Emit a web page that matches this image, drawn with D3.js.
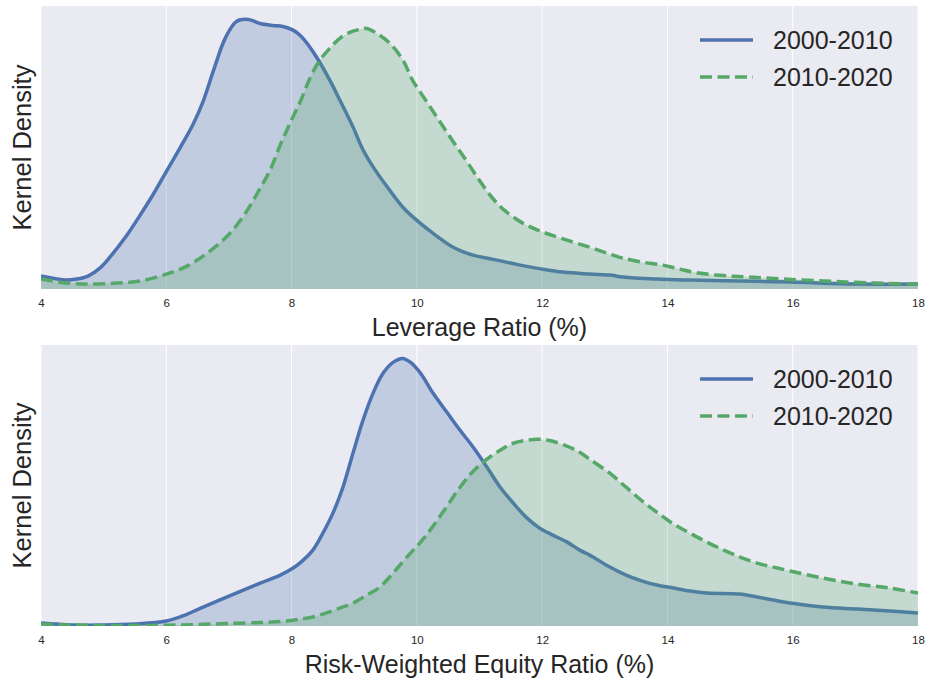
<!DOCTYPE html>
<html><head><meta charset="utf-8">
<script src="https://cdn.jsdelivr.net/npm/d3@7"></script>
<style>
html,body{margin:0;padding:0;background:#fff;}
svg{display:block;font-family:"Liberation Sans",Arial,sans-serif;}
</style></head>
<body><svg id="chart" width="927" height="685"></svg>
<script>
const seriesNames = ["2000-2010", "2010-2020"];
const xTicks = [4, 6, 8, 10, 12, 14, 16, 18];

// Leverage ratio KDE (x, density)
const levX_2000 = [4.0,4.38,4.57,4.75,4.94,5.1,5.37,5.58,5.79,6.0,6.22,6.43,6.59,6.75,6.94,7.12,7.31,7.5,7.7,7.86,8.0,8.1,8.21,8.4,8.61,8.77,8.98,9.14,9.33,9.57,9.78,10.0,10.26,10.58,10.9,11.28,11.65,12.0,12.33,12.76,13.08,13.29,13.83,14.36,15.16,15.96,17.03,18.0];
const levY_2000 = [0.013,0.009,0.010,0.013,0.021,0.032,0.054,0.074,0.095,0.118,0.142,0.166,0.189,0.219,0.252,0.269,0.271,0.267,0.265,0.264,0.261,0.257,0.250,0.233,0.210,0.190,0.163,0.140,0.120,0.099,0.082,0.069,0.056,0.042,0.034,0.029,0.024,0.020,0.017,0.015,0.014,0.012,0.010,0.009,0.008,0.007,0.005,0.005];
const levX_2010 = [4.0,4.41,4.78,5.21,5.58,6.0,6.33,6.65,6.97,7.23,7.45,7.66,7.82,8.0,8.15,8.3,8.45,8.61,8.77,8.93,9.09,9.2,9.36,9.57,9.78,9.93,10.14,10.35,10.56,10.78,10.99,11.2,11.4,11.67,11.94,12.3,12.76,13.13,13.29,13.6,13.93,14.2,14.5,14.9,15.3,15.85,16.5,17.0,17.5,18.0];
const levY_2010 = [0.010,0.006,0.005,0.006,0.008,0.015,0.023,0.036,0.053,0.073,0.096,0.120,0.145,0.170,0.190,0.213,0.230,0.242,0.252,0.258,0.261,0.262,0.257,0.247,0.230,0.210,0.190,0.170,0.150,0.130,0.110,0.092,0.079,0.067,0.059,0.051,0.042,0.034,0.031,0.027,0.024,0.020,0.016,0.0135,0.012,0.010,0.008,0.0067,0.0057,0.0047];

// Risk-weighted equity ratio KDE (x, density)
const rweX_2000 = [4.0,4.5,5.0,5.5,6.0,6.3,6.55,7.0,7.5,7.82,8.0,8.15,8.34,8.5,8.66,8.82,8.98,9.14,9.3,9.46,9.62,9.77,9.9,10.06,10.26,10.48,10.69,10.9,11.12,11.33,11.54,11.76,11.96,12.17,12.4,12.6,12.76,13.08,13.34,13.6,13.83,14.1,14.36,14.63,15.16,15.43,15.69,15.96,16.48,17.03,17.55,18.0];
const rweY_2000 = [0.003,0.001,0.001,0.002,0.005,0.011,0.018,0.030,0.043,0.051,0.057,0.064,0.076,0.093,0.113,0.139,0.173,0.206,0.233,0.253,0.264,0.268,0.264,0.253,0.233,0.214,0.196,0.179,0.159,0.139,0.123,0.108,0.098,0.091,0.084,0.076,0.071,0.059,0.051,0.045,0.041,0.038,0.035,0.033,0.032,0.029,0.026,0.023,0.019,0.017,0.015,0.013];
const rweX_2010 = [4.0,4.5,5.0,5.5,6.0,6.5,7.0,7.5,7.82,8.0,8.15,8.34,8.55,8.77,8.98,9.2,9.41,9.62,9.84,10.06,10.26,10.48,10.69,10.9,11.12,11.33,11.54,11.76,11.96,12.17,12.4,12.6,12.76,13.08,13.34,13.6,13.83,14.1,14.36,14.63,14.9,15.16,15.43,15.69,15.96,16.48,17.03,17.55,18.0];
const rweY_2010 = [0.002,0.001,0.0005,0.0005,0.0008,0.0015,0.0025,0.0035,0.0045,0.0055,0.007,0.009,0.013,0.018,0.023,0.031,0.039,0.053,0.069,0.084,0.100,0.120,0.139,0.155,0.167,0.176,0.183,0.186,0.187,0.185,0.180,0.174,0.167,0.153,0.139,0.125,0.114,0.102,0.093,0.084,0.076,0.069,0.063,0.059,0.055,0.048,0.042,0.038,0.033];

const panels = [
  {xlabel: "Leverage Ratio (%)", top: 6, bottom: 289,
   series: [d3.zip(levX_2000, levY_2000), d3.zip(levX_2010, levY_2010)]},
  {xlabel: "Risk-Weighted Equity Ratio (%)", top: 345, bottom: 626,
   series: [d3.zip(rweX_2000, rweY_2000), d3.zip(rweX_2010, rweY_2010)]}
];

const colors = ["#4C72B0", "#55A868"];
const dashes = [null, "12,5.5"];
const left = 41, right = 918;
const svg = d3.select("#chart");

panels.forEach((p, pi) => {
  const x = d3.scaleLinear().domain([4, 18]).range([left, right]);
  const ymax = d3.max(p.series.flat(), d => d[1]) * 1.05;
  const y = d3.scaleLinear().domain([0, ymax]).range([p.bottom, p.top]);
  const g = svg.append("g");
  const clipId = "clip" + pi;
  svg.append("clipPath").attr("id", clipId).append("rect")
    .attr("x", left).attr("y", p.top).attr("width", right - left).attr("height", p.bottom - p.top);

  g.append("rect").attr("x", left).attr("y", p.top)
    .attr("width", right - left).attr("height", p.bottom - p.top).attr("fill", "#EAEAF2");

  g.selectAll("line.grid").data(xTicks).join("line")
    .attr("x1", d => x(d)).attr("x2", d => x(d))
    .attr("y1", p.top).attr("y2", p.bottom)
    .attr("stroke", "#fff").attr("stroke-width", 1);

  const plot = g.append("g").attr("clip-path", `url(#${clipId})`);
  const curve = d3.curveCatmullRom.alpha(0.5);
  const area = d3.area().x(d => x(d[0])).y0(y(0)).y1(d => y(d[1])).curve(curve);
  const line = d3.line().x(d => x(d[0])).y(d => y(d[1])).curve(curve);
  p.series.forEach((s, si) => {
    plot.append("path").attr("d", area(s)).attr("fill", colors[si]).attr("fill-opacity", 0.25);
    plot.append("path").attr("d", line(s)).attr("fill", "none")
      .attr("stroke", colors[si]).attr("stroke-width", 3.5)
      .attr("stroke-dasharray", dashes[si]).attr("stroke-linejoin", "round");
  });

  const axis = d3.axisBottom(x).tickValues(xTicks).tickSize(0).tickPadding(10).tickFormat(d3.format("d"));
  const ax = g.append("g").attr("transform", `translate(0,${p.bottom})`).call(axis);
  ax.select(".domain").remove();
  ax.selectAll("text").attr("font-size", "11.5px").attr("fill", "#262626")
    .attr("font-family", "'Liberation Sans', Arial, sans-serif");

  g.append("text").attr("x", (left + right) / 2).attr("y", p.bottom + 38)
    .attr("dy", "0.35em")
    .attr("text-anchor", "middle").attr("font-size", "25px").attr("fill", "#262626")
    .text(p.xlabel);

  g.append("text")
    .attr("transform", `translate(22,${(p.top + p.bottom) / 2}) rotate(-90)`)
    .attr("dy", "0.35em")
    .attr("text-anchor", "middle").attr("font-size", "25.5px").attr("fill", "#262626")
    .text("Kernel Density");

  seriesNames.forEach((name, si) => {
    const ly = p.top + 34 + si * 37;
    g.append("line").attr("x1", 700).attr("x2", 753).attr("y1", ly).attr("y2", ly)
      .attr("stroke", colors[si]).attr("stroke-width", 3.5).attr("stroke-dasharray", dashes[si]);
    g.append("text").attr("x", 773).attr("y", ly).attr("dy", "0.35em")
      .attr("font-size", "25px").attr("fill", "#262626").text(name);
  });
});
</script></body></html>
